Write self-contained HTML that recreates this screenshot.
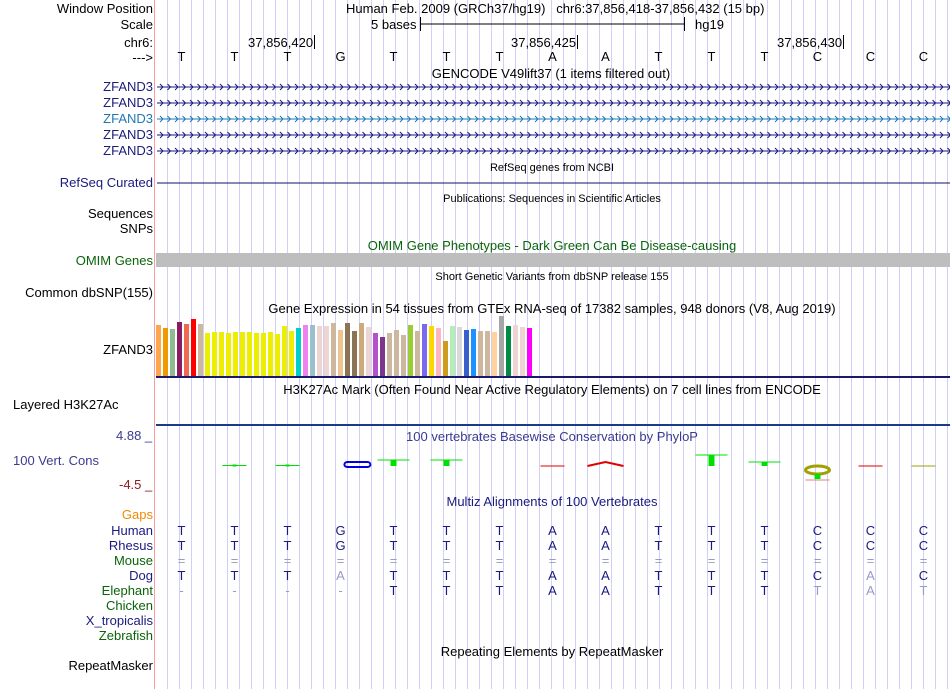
<!DOCTYPE html>
<html><head><meta charset="utf-8">
<style>
body{margin:0;width:950px;height:689px;overflow:hidden;background:#fff;font-family:"Liberation Sans",Arial,sans-serif;font-size:13px;}
#root{position:relative;width:950px;height:689px;}
.sep{position:absolute;left:154px;top:0;width:1px;height:689px;background:#f4a0a0;}
.lbl{position:absolute;right:797px;white-space:nowrap;line-height:15px;}
.t{position:absolute;white-space:nowrap;line-height:15px;}
.c{transform:translateX(-50%);}
.nv{color:#1a1a80}.gr{color:#0a640a}
svg{position:absolute;left:0;top:0;}
</style></head><body><div id="root">
<svg id="grid" width="950" height="689"></svg>
<div class="sep"></div>

<div class="lbl" style="top:1px">Window Position</div>
<div class="lbl" style="top:17px">Scale</div>
<div class="lbl" style="top:35px">chr6:</div>
<div class="lbl" style="top:50px">---&gt;</div>
<div class="t" style="left:346px;top:1px">Human Feb. 2009 (GRCh37/hg19)&nbsp;&nbsp; chr6:37,856,418-37,856,432 (15 bp)</div>
<div class="t" style="left:371px;top:17px">5 bases</div>
<div class="t" style="left:695px;top:17px">hg19</div>
<div class="t" style="left:248px;top:35px">37,856,420</div>
<div class="t" style="left:511px;top:35px">37,856,425</div>
<div class="t" style="left:777px;top:35px">37,856,430</div>
<div class="t c" style="left:551px;top:66px">GENCODE V49lift37 (1 items filtered out)</div>

<div class="lbl nv" style="top:79px">ZFAND3</div>
<div class="lbl nv" style="top:95px">ZFAND3</div>
<div class="lbl" style="top:111px;color:#1f78b4">ZFAND3</div>
<div class="lbl nv" style="top:127px">ZFAND3</div>
<div class="lbl nv" style="top:143px">ZFAND3</div>

<div class="t c" style="left:552px;top:161px;font-size:11px">RefSeq genes from NCBI</div>
<div class="lbl nv" style="top:175px">RefSeq Curated</div>
<div class="t c" style="left:552px;top:192px;font-size:11px">Publications: Sequences in Scientific Articles</div>
<div class="lbl" style="top:206px">Sequences</div>
<div class="lbl" style="top:221px">SNPs</div>
<div class="t c gr" style="left:552px;top:238px">OMIM Gene Phenotypes - Dark Green Can Be Disease-causing</div>
<div class="lbl gr" style="top:253px">OMIM Genes</div>
<div class="t c" style="left:552px;top:270px;font-size:11px">Short Genetic Variants from dbSNP release 155</div>
<div class="lbl" style="top:285px">Common dbSNP(155)</div>
<div class="t c" style="left:552px;top:301px">Gene Expression in 54 tissues from GTEx RNA-seq of 17382 samples, 948 donors (V8, Aug 2019)</div>
<div class="lbl" style="top:342px">ZFAND3</div>
<div class="t c" style="left:552px;top:382px">H3K27Ac Mark (Often Found Near Active Regulatory Elements) on 7 cell lines from ENCODE</div>
<div class="t" style="top:397px;left:13px">Layered H3K27Ac</div>
<div class="t c" style="left:552px;top:429px;color:#3b3b8f">100 vertebrates Basewise Conservation by PhyloP</div>
<div class="t" style="top:428px;left:116px;color:#3b3b8f">4.88 _</div>
<div class="t" style="top:453px;left:13px;color:#3b3b8f">100 Vert. Cons</div>
<div class="t" style="top:477px;left:119px;color:#8b1a1a">-4.5 _</div>
<div class="t c nv" style="left:552px;top:494px">Multiz Alignments of 100 Vertebrates</div>
<div class="lbl" style="top:507px;color:#f08a00">Gaps</div>
<div class="lbl nv" style="top:523px">Human</div>
<div class="lbl nv" style="top:538px">Rhesus</div>
<div class="lbl gr" style="top:553px">Mouse</div>
<div class="lbl nv" style="top:568px">Dog</div>
<div class="lbl gr" style="top:583px">Elephant</div>
<div class="lbl gr" style="top:598px">Chicken</div>
<div class="lbl nv" style="top:613px">X_tropicalis</div>
<div class="lbl gr" style="top:628px">Zebrafish</div>
<div class="t c" style="left:552px;top:644px">Repeating Elements by RepeatMasker</div>
<div class="lbl" style="top:658px">RepeatMasker</div>

<svg id="chart" width="950" height="689"></svg>
</div>
<script>
const bases=["T","T","T","G","T","T","T","A","A","T","T","T","C","C","C"];
const rhesus=["T","T","T","G","T","T","T","A","A","T","T","T","C","C","C"];
const mouse=["=","=","=","=","=","=","=","=","=","=","=","=","=","=","="];
const dog=["T","T","T","A","T","T","T","A","A","T","T","T","C","A","C"];
const elephant=["-","-","-","-","T","T","T","A","A","T","T","T","T","A","T"];
const gtexValues=[51,48,47,54,52,57,52,43,44,44,43,44,44,44,43,43,44,42,50,45,48,51,51,50,50,53,46,53,45,53,49,43,39,43,46,41,51,45,52,50,48,35,50,49,46,47,45,45,44,60,50,51,49,48];
const gtexColors=["#ffa54f","#ee9a00","#8fbc8f","#8b1c62","#ee6a50","#ff0000","#cdb79e","#eeee00","#eeee00","#eeee00","#eeee00","#eeee00","#eeee00","#eeee00","#eeee00","#eeee00","#eeee00","#eeee00","#eeee00","#eeee00","#00cdcd","#ee82ee","#9ac0cd","#eed5d2","#eed5d2","#cdb79e","#eec591","#8b7355","#8b7355","#cdaa7d","#eed5d2","#b452cd","#7a378b","#cdb79e","#cdb79e","#cdb79e","#9acd32","#cdb79e","#7b68ee","#ffd700","#ffb6c1","#cd9b1d","#b4eeb4","#d9d9d9","#3a5fcd","#1e90ff","#cdb79e","#cdb79e","#ffd39b","#a6a6a6","#008b45","#eed5d2","#eed5d2","#ff00ff"];
const phylopPos=[1,2,3.3,4,5,7,8,10,11,12,13,14];
const phylopVals=[0.1,0.1,0,1.2,1.2,0,0.8,2.2,0.8,-1.2,0,0];
const svg=document.getElementById('chart');const NS='http://www.w3.org/2000/svg';
function el(tag,a,parent){const e=document.createElementNS(NS,tag);for(const k in a)e.setAttribute(k,a[k]);(parent||svg).appendChild(e);return e;}
const grid=document.getElementById('grid');
for(let x=167.5;x<950;x+=12){el('line',{x1:x,y1:0,x2:x,y2:689,stroke:'#cfcff8','stroke-width':1},grid);}
const x0=155,bw=53;
function xBase(i){return x0+bw*(i+0.5);}
let e=el('line',{x1:420,y1:24,x2:685,y2:24,stroke:'#000'});
el('line',{x1:420.5,y1:17,x2:420.5,y2:31,stroke:'#000'});el('line',{x1:684.5,y1:17,x2:684.5,y2:31,stroke:'#000'});
[314.5,577.5,843.5].forEach(x=>el('line',{x1:x,y1:35,x2:x,y2:49,stroke:'#000'}));
bases.forEach((b,i)=>{const t=el('text',{x:xBase(i),y:61,'text-anchor':'middle','font-size':13,fill:'#000'});t.textContent=b;
});
const geneY=[87,103,119,135,151];
geneY.forEach((y,k)=>{const col=k==2?'#1f78b4':'#1a1a80';
const l=el('line',{x1:157,y1:y,x2:950,y2:y,stroke:col,'stroke-width':1});
let d='';for(let x=160;x<948;x+=7.5){d+=`M${x.toFixed(1)},${y-3}L${(x+3).toFixed(1)},${y}L${x.toFixed(1)},${y+3}`;}
el('path',{d:d,stroke:col,fill:'none','stroke-width':1});});
e=el('line',{x1:157,y1:183,x2:950,y2:183,stroke:'#10106a'});
e=el('rect',{x:156,y:253,width:794,height:14,fill:'#bebebe'});
const gBase=376,gx0=156,gstep=7;
function gH(v){return v;}
gtexValues.forEach((v,i)=>{const r=el('rect',{x:gx0+i*gstep,y:gBase-gH(v),width:5,height:gH(v),fill:gtexColors[i]});
});
el('rect',{x:156,y:376,width:794,height:2,fill:'#1a1a6a'});
el('rect',{x:156,y:424,width:794,height:2,fill:'#1a3a8a'});
const zeroY=466,pScale=5;
function pY(v){return zeroY-v*pScale;}
const glyphs=['','','C','T','T','','A','T','T','G','',''];
const cols=['#00e000','#00e000','#0000e0','#00e000','#00e000','#e00000','#e00000','#00e000','#00e000','#a0a000','#e00000','#a0a000'];
phylopPos.forEach((pi,k)=>{const cx=xBase(pi);const v=phylopVals[k];const y=pY(v);const c=cols[k];const g=glyphs[k];let m;
if(g==='T'){m=el('path',{d:`M${cx-16},${y}H${cx+16}`,stroke:c,'stroke-width':1,fill:'none'});el('rect',{x:cx-3,y:y,width:6,height:zeroY-y,fill:c});}
else if(g==='A'){m=el('path',{d:`M${cx-18},${zeroY}L${cx},${y}L${cx+18},${zeroY}`,stroke:c,'stroke-width':2,fill:'none'});}
else if(g==='C'){m=el('rect',{x:cx-12,y:zeroY-4,width:26,height:5,rx:3,fill:'none',stroke:c,'stroke-width':2});}
else if(g==='G'){m=el('ellipse',{cx:cx,cy:zeroY+4,rx:12,ry:4,fill:'none',stroke:c,'stroke-width':3});el('rect',{x:cx-3,y:zeroY+8,width:6,height:5,fill:'#00e000'});el('line',{x1:cx-12,y1:zeroY+14,x2:cx+12,y2:zeroY+14,stroke:'#e08080'});}
else{m=el('line',{x1:cx-12,y1:y,x2:cx+12,y2:y,stroke:c,'stroke-width':1});if(v>0)el('rect',{x:cx-2,y:y-1,width:4,height:2,fill:c});}
});
function row(arr,y,colorFn,name){arr.forEach((b,i)=>{const t=el('text',{x:xBase(i),y:y,'text-anchor':'middle','font-size':13,fill:colorFn(b,i)});t.textContent=b;
});}
row(bases,535,()=> '#1a1a80','human-base');
row(rhesus,550,()=> '#1a1a80','rhesus-base');
row(mouse,565,()=> '#9a9ac8','mouse-base');
row(dog,580,(b,i)=>b===bases[i]?'#1a1a80':'#9a9ac8','dog-base');
row(elephant,595,(b,i)=>b===bases[i]?'#1a1a80':'#9a9ac8','elephant-base');
</script></body></html>
